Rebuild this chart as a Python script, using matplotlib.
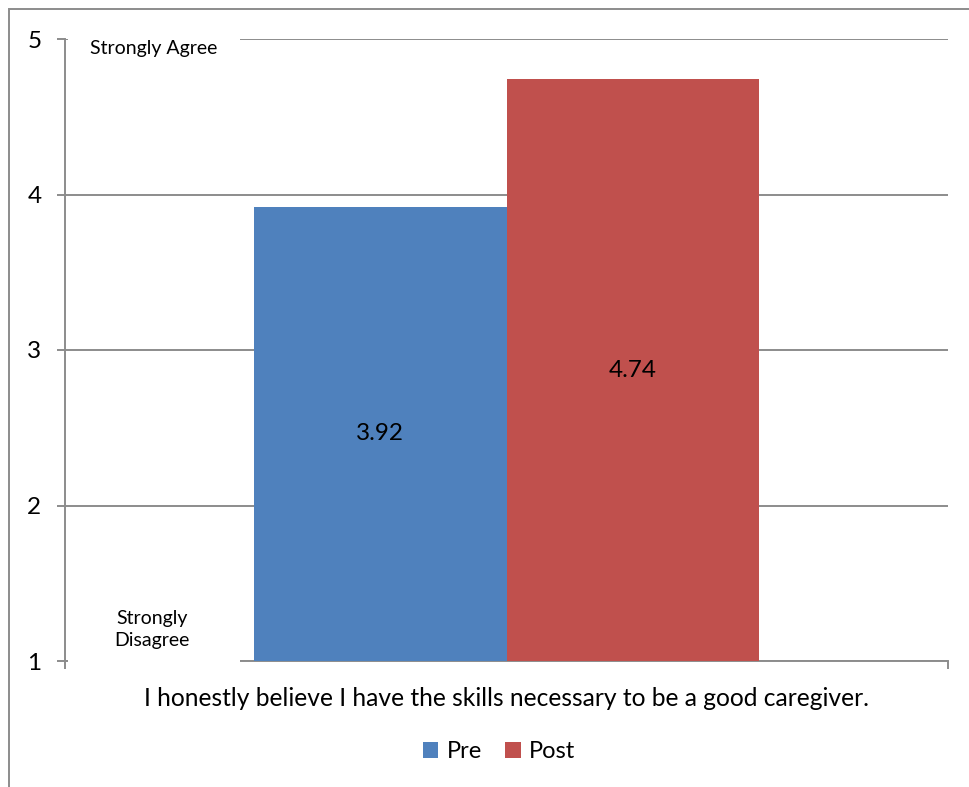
import matplotlib.pyplot as plt
from matplotlib.patches import Rectangle

plt.rcParams['font.family'] = ['Lato', 'DejaVu Sans']

series = ['Pre', 'Post']
values = [3.92, 4.74]
colors = ['#4F81BD', '#C0504D']
question = 'I honestly believe I have the skills necessary to be a good caregiver.'
y_ticks = [1, 2, 3, 4, 5]

fig = plt.figure(figsize=(9.69, 7.87), dpi=100)
ax = fig.add_axes([65 / 969, 1 - 661 / 787, 883 / 969, 622 / 787])

# outer chart frame (cut by the picture edges on right and bottom)
fig.patches.append(Rectangle((9 / 969, -0.05), 1.2, 1 - 9 / 787 + 0.05,
                             transform=fig.transFigure, fill=False,
                             edgecolor='#8c8c8c', lw=1.4, zorder=0))

bar_w = 505 / 883 / 2
lefts = [0.5 - bar_w, 0.5]
for x, v, c, name in zip(lefts, values, colors, series):
    ax.bar(x, v - 1, bottom=1, width=bar_w, align='edge', color=c,
           label=name, zorder=3)
    ax.text(x + bar_w / 2, (1 + v) / 2, f'{v:.2f}', ha='center', va='center',
            fontsize=17.5, color='black', zorder=4)

ax.set_xlim(0, 1)
ax.set_ylim(1, 5)
ax.set_yticks(y_ticks)
ax.set_yticklabels([str(t) for t in y_ticks], fontsize=17.5)
ax.set_xticks([0, 1])
ax.set_xticklabels(['', ''])
ax.tick_params(axis='y', length=6, width=1.4, color='#8c8c8c', pad=11)
ax.tick_params(axis='x', length=6, width=1.4, color='#8c8c8c')
ax.yaxis.grid(True, color='#8c8c8c', lw=1.4, zorder=1)
ax.set_axisbelow(True)
for s in ['top', 'right']:
    ax.spines[s].set_visible(False)
for s in ['left', 'bottom']:
    ax.spines[s].set_color('#8c8c8c')
    ax.spines[s].set_linewidth(1.4)
ax.spines['bottom'].set_zorder(1.5)

# white label boxes over the grid
ax.add_patch(Rectangle((0.003, 4.83), 0.195, 0.25, facecolor='white',
                       edgecolor='none', zorder=2, clip_on=False))
ax.add_patch(Rectangle((0.003, 0.95), 0.195, 0.45, facecolor='white',
                       edgecolor='none', zorder=2, clip_on=False))
ax.text((154 - 65) / 883, 4.94, 'Strongly Agree', ha='center', va='center',
        fontsize=14, zorder=5)
ax.text((152 - 65) / 883, 1.2, 'Strongly\nDisagree', ha='center', va='center',
        fontsize=14, linespacing=1.35, zorder=5)

ax.set_xlabel(question, fontsize=17.7, labelpad=9)

leg = fig.legend(loc='center', bbox_to_anchor=(499 / 969, 1 - 752 / 787),
                 ncol=2, frameon=False, fontsize=17, handlelength=0.65,
                 handleheight=0.65, handletextpad=0.35, columnspacing=1.0)

fig.savefig('out.png', dpi=100)
